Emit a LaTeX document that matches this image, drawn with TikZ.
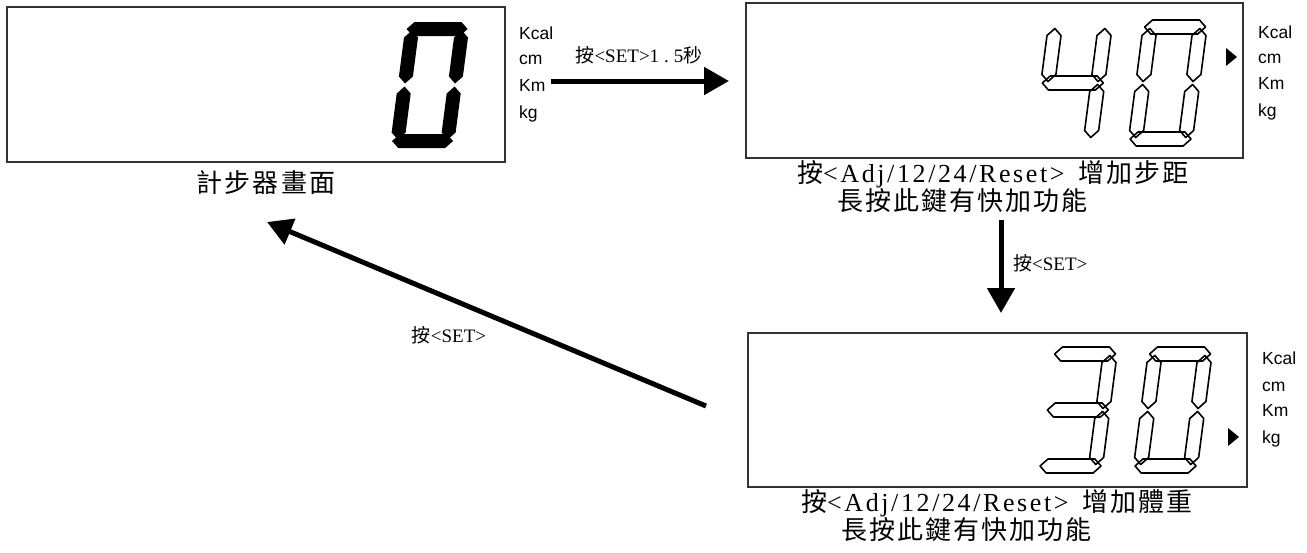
\documentclass[tikz,border=0pt]{standalone}
\usepackage{fontspec}
\setmainfont{Liberation Serif}
\newfontfamily\cjk[LetterSpace=8]{Noto Sans CJK TC}
\newfontfamily\unitfont{Liberation Sans}
\newfontfamily\capfont[LetterSpace=10]{Liberation Serif}
\usetikzlibrary{arrows.meta,positioning}

% seven segments of one lcd digit (y down, before slant)
\newcommand{\lcdsega}[1]{\path[#1] (1.5,7) -- (8.5,0) -- (55.5,0) -- (62.5,7) -- (55.5,14) -- (8.5,14) -- cycle;}
\newcommand{\lcdsegg}[1]{\path[#1] (1.5,63) -- (8.5,56) -- (55.5,56) -- (62.5,63) -- (55.5,70) -- (8.5,70) -- cycle;}
\newcommand{\lcdsegd}[1]{\path[#1] (1.5,119) -- (8.5,112) -- (55.5,112) -- (62.5,119) -- (55.5,126) -- (8.5,126) -- cycle;}
\newcommand{\lcdsegf}[1]{\path[#1] (7,8.5) -- (14,15.5) -- (14,54.5) -- (7,61.5) -- (0,54.5) -- (0,15.5) -- cycle;}
\newcommand{\lcdsege}[1]{\path[#1] (7,64.5) -- (14,71.5) -- (14,110.5) -- (7,117.5) -- (0,110.5) -- (0,71.5) -- cycle;}
\newcommand{\lcdsegb}[1]{\path[#1] (57,8.5) -- (64,15.5) -- (64,54.5) -- (57,61.5) -- (50,54.5) -- (50,15.5) -- cycle;}
\newcommand{\lcdsegc}[1]{\path[#1] (57,64.5) -- (64,71.5) -- (64,110.5) -- (57,117.5) -- (50,110.5) -- (50,71.5) -- cycle;}
\newcommand{\lcddigit}[4]{%
    \begin{scope}[shift={(#1,#2)}, xslant=0.13]
        \foreach \s in {#3}
            {\csname lcdseg\s\endcsname{#4}}
    \end{scope}}

\tikzset{
    lcd/.style={draw=black!80, line width=1.2pt, inner sep=0pt},
    segfill/.style={fill=black},
    segline/.style={draw=black, line width=1.6pt, line join=round},
    unit/.style={font=\unitfont\fontsize{17.5}{19}\selectfont, anchor=west,
        inner sep=0pt, text height=12.5pt, text depth=0pt},
    caption/.style={font=\fontsize{26}{26.5}\selectfont, inner sep=0pt},
    lbl/.style={font=\fontsize{19}{22}\selectfont, inner sep=0pt},
    bigarrow/.style={line width=5pt, -{Triangle[length=25pt,width=27pt]}},
}

\begin{document}
\begin{tikzpicture}[x=1pt,y=-1pt]
    \useasboundingbox (0,0) rectangle (1307,552);

    %% the three screens
    \node[lcd, minimum width=498pt, minimum height=155pt] (lcd1) at (256,84.5) {};
    \node[lcd, minimum width=497pt, minimum height=155pt] (lcd2) at (994.5,80.5) {};
    \node[lcd, minimum width=499pt, minimum height=154pt] (lcd3) at (997.5,410) {};

    \foreach \u/\y in {Kcal/33,cm/58,Km/85,kg/112}
        \node[unit] (u1\u) at (519,\y) {\u};
    \foreach \u/\y in {Kcal/32,cm/57,Km/83,kg/110}
        \node[unit] (u2\u) at (1258,\y) {\u};
    \foreach \u/\y in {Kcal/358,cm/385,Km/410,kg/437}
        \node[unit] (u3\u) at (1262,\y) {\u};

    %% digits
    \lcddigit{406}{22}{a,b,c,d,e,f}{segfill}
    \lcddigit{1049}{20}{b,c,f,g}{segline}
    \lcddigit{1144}{20}{a,b,c,d,e,f}{segline}
    \lcddigit{1054}{347}{a,b,c,d,g}{segline}
    \lcddigit{1149}{347}{a,b,c,d,e,f}{segline}

    % unit markers
    \fill (1226,48) -- (1237,57) -- (1226,66) -- cycle;
    \fill (1228,428) -- (1239,437) -- (1228,446) -- cycle;

    %% captions
    \node[caption] (cap1) at (266,183) {\cjk 計步器畫面};
    \node[caption, align=left, anchor=west] (cap2) at (797,186.5)
        {{\cjk 按}{\capfont <Adj/12/24/Reset>}\hspace{14pt}{\cjk 增加步距}\\
         \hspace{40pt}{\cjk 長按此鍵有快加功能}};
    \node[caption, align=left, anchor=west] (cap3) at (801,515.5)
        {{\cjk 按}{\capfont <Adj/12/24/Reset>}\hspace{14pt}{\cjk 增加體重}\\
         \hspace{40pt}{\cjk 長按此鍵有快加功能}};

    %% arrows
    \coordinate (a1s) at (551,81);
    \coordinate (a1e) at (729,81);
    \coordinate (a2s) at (1001,220);
    \coordinate (a2e) at (1001,313);
    \coordinate (a3s) at (706,406);
    \coordinate (a3e) at (267,222);

    \path[bigarrow]
        (a1s) edge (a1e)
        (a2s) edge (a2e)
        (a3s) edge (a3e)
    ;

    \node[lbl] (lab1) at (639,55) {{\cjk 按}<SET>1\hspace{5pt}.\hspace{5pt}5{\cjk 秒}};
    \node[lbl, anchor=west] (lab2) at (1013,263) {{\cjk 按}<SET>};
    \node[lbl] (lab3) at (449,335) {{\cjk 按}<SET>};
\end{tikzpicture}
\end{document}
